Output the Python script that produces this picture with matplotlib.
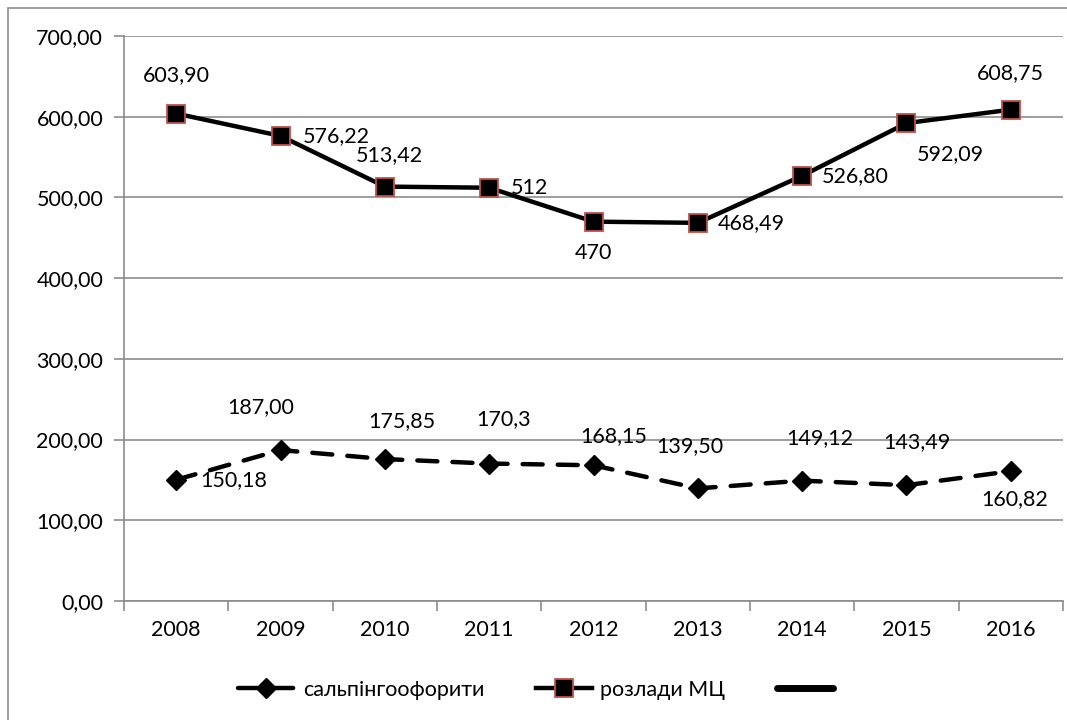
import matplotlib
matplotlib.use("Agg")
import matplotlib.pyplot as plt
from matplotlib.lines import Line2D
from matplotlib.patches import Rectangle

years = ["2008", "2009", "2010", "2011", "2012", "2013", "2014", "2015", "2016"]
salp = [150.18, 187.00, 175.85, 170.3, 168.15, 139.50, 149.12, 143.49, 160.82]
salp_text = ["150,18", "187,00", "175,85", "170,3", "168,15", "139,50", "149,12", "143,49", "160,82"]
mc = [603.90, 576.22, 513.42, 512, 470, 468.49, 526.80, 592.09, 608.75]
mc_text = ["603,90", "576,22", "513,42", "512", "470", "468,49", "526,80", "592,09", "608,75"]
yticks = [0, 100, 200, 300, 400, 500, 600, 700]

# label offsets in pixels (dx, dy, ha)
salp_off = [(24, 0, "left"), (-20, 43, "center"), (17, 38, "center"), (14, 44, "center"),
            (20, 29, "center"), (-8, 42, "center"), (18, 43, "center"), (10, 43, "center"),
            (4, -28, "center")]
mc_off = [(0, 38, "center"), (22, 0, "left"), (5, 32, "center"), (22, 0, "left"),
          (0, -31, "center"), (20, 0, "left"), (20, 0, "left"), (44, -31, "center"),
          (0, 37, "center")]

plt.rcParams["font.family"] = ["Lato", "DejaVu Sans"]
FS = 15.5

fig = plt.figure(figsize=(10.67, 7.2), dpi=100)
ax = fig.add_axes([124 / 1067, 1 - 601 / 720, (1063 - 124) / 1067, (601 - 36) / 720])

fig.patches.append(Rectangle((8 / 1067, -0.01), 1.1, 1 - 8 / 720 + 0.01,
                             transform=fig.transFigure, fill=False,
                             edgecolor="#8c8c8c", linewidth=1.2))

x = list(range(len(years)))
l1, = ax.plot(x, salp, color="black", linewidth=3.2, dashes=(4.5, 3.4),
              dash_capstyle="round", marker="D", markersize=10,
              markerfacecolor="black", markeredgecolor="black", zorder=3)
l2, = ax.plot(x, mc, color="black", linewidth=3.2, marker="s", markersize=12.5,
              markerfacecolor="black", markeredgecolor="#c0504d",
              markeredgewidth=1.3, zorder=3)

for xi, v, t, (dx, dy, ha) in zip(x, salp, salp_text, salp_off):
    ax.annotate(t, (xi, v), xytext=(dx, dy), textcoords="offset pixels",
                ha=ha, va="center", fontsize=FS, color="black")
for xi, v, t, (dx, dy, ha) in zip(x, mc, mc_text, mc_off):
    ax.annotate(t, (xi, v), xytext=(dx, dy), textcoords="offset pixels",
                ha=ha, va="center", fontsize=FS, color="black")

ax.set_xlim(-0.5, len(years) - 0.5)
ax.set_ylim(0, 700)
ax.set_yticks(yticks)
ax.set_yticklabels([f"{v:.2f}".replace(".", ",") for v in yticks], fontsize=FS)
ax.set_xticks(x)
ax.set_xticklabels(years, fontsize=FS)
ax.set_xticks([i - 0.5 for i in range(len(years) + 1)], minor=True)
ax.tick_params(axis="x", which="major", length=0, pad=14)
ax.tick_params(axis="x", which="minor", length=7, color="#8c8c8c", width=1.2, direction="out")
ax.tick_params(axis="y", length=7, color="#8c8c8c", width=1.2, pad=8)
ax.grid(axis="y", color="#8c8c8c", linewidth=1.2)
ax.set_axisbelow(True)
for s in ["top", "right"]:
    ax.spines[s].set_visible(False)
for s in ["left", "bottom"]:
    ax.spines[s].set_color("#8c8c8c")
    ax.spines[s].set_linewidth(1.2)

l3 = Line2D([], [], color="black", linewidth=5, solid_capstyle="round")
fig.legend([l1, l2, l3], ["сальпінгоофорити", "розлади МЦ", ""],
           loc="center", bbox_to_anchor=(540 / 1067, 1 - 690 / 720), ncol=3,
           frameon=False, fontsize=FS, handlelength=2.6, handletextpad=0.4,
           columnspacing=2.4)

fig.savefig("out.png", dpi=100)
